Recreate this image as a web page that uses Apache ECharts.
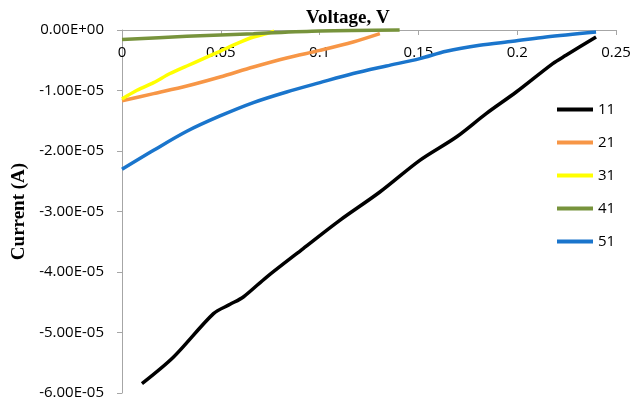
<!DOCTYPE html>
<html>
<head>
<meta charset="utf-8">
<script src="https://cdn.jsdelivr.net/npm/echarts@6/dist/echarts.min.js"></script>
<style>
  html, body { margin: 0; padding: 0; background: #fff; }
  #chart { width: 642px; height: 404px; }
</style>
</head>
<body>
<div id="chart"></div>
<script>
// 各曲线数据 (电压 V, 电流 A)
var names = ['11', '21', '31', '41', '51'];
var colors = ['#000000', '#f79646', '#ffff00', '#77933c', '#1a75cc'];

var volt11 = [0.0101, 0.0261, 0.0463, 0.0547, 0.0614, 0.0732, 0.0917, 0.1102, 0.1305, 0.1507, 0.1692, 0.1843, 0.1995, 0.2180, 0.2247, 0.2399];
var curr11 = [-5.845e-5, -5.405e-5, -4.688e-5, -4.534e-5, -4.413e-5, -4.083e-5, -3.612e-5, -3.146e-5, -2.678e-5, -2.155e-5, -1.769e-5, -1.382e-5, -1.025e-5, -0.555e-5, -0.418e-5, -0.116e-5];

var volt21 = [0, 0.016, 0.0328, 0.0496, 0.0665, 0.0833, 0.1002, 0.117, 0.1305];
var curr21 = [-1.17e-5, -1.051e-5, -0.926e-5, -0.777e-5, -0.612e-5, -0.463e-5, -0.336e-5, -0.198e-5, -0.06e-5];

var volt31 = [0, 0.0076, 0.016, 0.0243, 0.0328, 0.0412, 0.0496, 0.0581, 0.0665, 0.0732, 0.077];
var curr31 = [-1.14e-5, -0.997e-5, -0.87e-5, -0.72e-5, -0.595e-5, -0.473e-5, -0.352e-5, -0.225e-5, -0.116e-5, -0.06e-5, -0.02e-5];

var volt41 = [0, 0.0328, 0.0665, 0.1002, 0.1405];
var curr41 = [-0.159e-5, -0.104e-5, -0.06e-5, -0.017e-5, -0.002e-5];

var volt51 = [0, 0.016, 0.0328, 0.0496, 0.0665, 0.0833, 0.1002, 0.117, 0.1338, 0.1507, 0.1641, 0.181, 0.1978, 0.2146, 0.2399];
var curr51 = [-2.302e-5, -1.988e-5, -1.674e-5, -1.421e-5, -1.2e-5, -1.025e-5, -0.87e-5, -0.72e-5, -0.595e-5, -0.473e-5, -0.352e-5, -0.253e-5, -0.187e-5, -0.116e-5, -0.033e-5];

var xTicks = [0, 0.05, 0.1, 0.15, 0.2, 0.25];

var volts = [volt11, volt21, volt31, volt41, volt51];
var currs = [curr11, curr21, curr31, curr41, curr51];

function pairs(xs, ys) {
    var out = [];
    for (var i = 0; i < xs.length; i++) {
        out.push([xs[i], ys[i]]);
    }
    return out;
}

function sci(v) {
    var s = v.toExponential(2).toUpperCase();
    return s.replace(/E([+-])(\d)$/, 'E$10$2');
}

var series = [];
for (var i = 0; i < names.length; i++) {
    series.push({
        name: names[i],
        type: 'line',
        data: pairs(volts[i], currs[i]),
        showSymbol: false,
        symbol: 'none',
        smooth: 0.3,
        clip: false,
        lineStyle: { width: 3.5, color: colors[i] },
        itemStyle: { color: colors[i] }
    });
}

var chart = echarts.init(document.getElementById('chart'));
chart.setOption({
    animation: false,
    title: {
        text: 'Voltage, V',
        left: 306,
        top: 9,
        padding: 0,
        textStyle: { fontFamily: 'Liberation Serif', fontWeight: 'bold', fontSize: 19, color: '#000' }
    },
    legend: {
        orient: 'vertical',
        left: 552,
        top: 97,
        icon: 'rect',
        itemWidth: 36,
        itemHeight: 4,
        itemGap: 18,
        data: names,
        textStyle: { fontFamily: 'Open Sans', fontSize: 15, color: '#000', padding: [3, 0, 0, 0] }
    },
    grid: { left: 122, right: 26, top: 30, bottom: 11, containLabel: false },
    xAxis: {
        type: 'value',
        position: 'top',
        min: 0,
        max: 0.25,
        interval: 0.05,
        axisLine: { onZero: false, lineStyle: { color: '#a6a6a6', width: 1 } },
        axisTick: { inside: true, length: 5, lineStyle: { color: '#a6a6a6' } },
        splitLine: { show: false },
        axisLabel: {
            inside: true,
            margin: 15,
            fontFamily: 'Open Sans',
            fontSize: 15,
            color: '#000',
            formatter: function (v) { return String(+v.toFixed(2)); }
        }
    },
    yAxis: {
        type: 'value',
        min: -6e-5,
        max: 0,
        interval: 1e-5,
        name: 'Current (A)',
        nameLocation: 'middle',
        nameGap: 86,
        nameTextStyle: { fontFamily: 'Liberation Serif', fontWeight: 'bold', fontSize: 19, color: '#000' },
        axisLine: { onZero: false, lineStyle: { color: '#a6a6a6', width: 1 } },
        axisTick: { length: 5, lineStyle: { color: '#a6a6a6' } },
        splitLine: { show: false },
        axisLabel: {
            margin: 18,
            fontFamily: 'Open Sans',
            fontSize: 15,
            color: '#000',
            formatter: sci
        }
    },
    series: series
});
</script>
</body>
</html>
